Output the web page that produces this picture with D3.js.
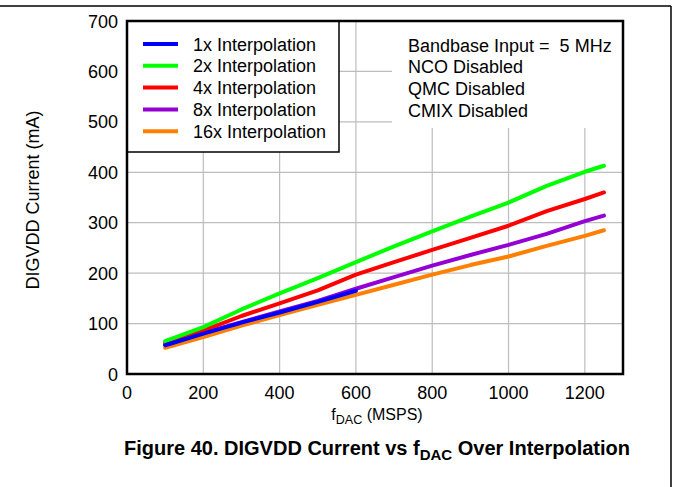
<!DOCTYPE html>
<html><head><meta charset="utf-8">
<script src="https://cdn.jsdelivr.net/npm/d3@7"></script>
<style>
body{margin:0;background:#fff;}
text{font-family:"Liberation Sans",Arial,sans-serif;white-space:pre;}
</style></head>
<body><svg id="c" width="674" height="487"></svg>
<script>
const xValues = [100,200,300,400,500,600,700,800,900,1000,1100,1200,1250];
const x1Values = [100,200,300,400,500,600];
const series1x = [57,80,102,122,143,165];
const series2x = [65,93,128,160,190,222,253,283,312,340,373,401,413];
const series4x = [62,86,115,140,166,197,222,246,270,294,323,347,360];
const series8x = [58,81,103,124,145,169,192,215,236,256,278,303,314];
const series16x = [52,73,96,117,137,157,177,197,216,233,254,274,285];
const seriesNames = ["1x Interpolation","2x Interpolation","4x Interpolation","8x Interpolation","16x Interpolation"];
const seriesColors = ["#0000ff","#00ff00","#ff0000","#9400d3","#ff7f00"];
const xTicks = [0,200,400,600,800,1000,1200];
const yTicks = [0,100,200,300,400,500,600,700];
const notes = ["Bandbase Input =  5 MHz","NCO Disabled","QMC Disabled","CMIX Disabled"];

const svg = d3.select("#c");
const L=127,R=623,T=21,B=374;
const x = d3.scaleLinear().domain([0,1300]).range([L,R]);
const y = d3.scaleLinear().domain([0,700]).range([B,T]);

// page frame lines
svg.append("line").attr("x1",0).attr("x2",671).attr("y1",6).attr("y2",6).attr("stroke","#000").attr("stroke-width",1.5);
svg.append("line").attr("x1",671).attr("x2",671).attr("y1",6).attr("y2",487).attr("stroke","#000").attr("stroke-width",1.5);

// grid
svg.append("g").selectAll("line").data(xTicks.slice(1)).join("line")
  .attr("x1",d=>x(d)).attr("x2",d=>x(d)).attr("y1",T).attr("y2",B)
  .attr("stroke","#bdbdbd").attr("stroke-width",1.2);
svg.append("g").selectAll("line").data(yTicks.slice(1,-1)).join("line")
  .attr("x1",L).attr("x2",R).attr("y1",d=>y(d)).attr("y2",d=>y(d))
  .attr("stroke","#bdbdbd").attr("stroke-width",1.2);

// white boxes covering grid
svg.append("rect").attr("x",392).attr("y",T).attr("width",R-392).attr("height",107).attr("fill","#fff");
svg.append("rect").attr("x",L).attr("y",T).attr("width",339-L).attr("height",152-T).attr("fill","#fff").attr("stroke","#000").attr("stroke-width",1.5);

// series lines
const line = d3.line().x(d=>x(d[0])).y(d=>y(d[1]));
const allSeries = [
  {xs:x1Values, ys:series1x},
  {xs:xValues, ys:series2x},
  {xs:xValues, ys:series4x},
  {xs:xValues, ys:series8x},
  {xs:xValues, ys:series16x}
];
[4,3,2,1,0].forEach(i=>{
  const s = allSeries[i];
  svg.append("path").datum(s.xs.map((v,k)=>[v,s.ys[k]]))
    .attr("d",line).attr("fill","none").attr("stroke",seriesColors[i])
    .attr("stroke-width",4).attr("stroke-linejoin","round").attr("stroke-linecap","round");
});

// plot frame
svg.append("rect").attr("x",L).attr("y",T).attr("width",R-L).attr("height",B-T)
  .attr("fill","none").attr("stroke","#000").attr("stroke-width",2.5);

// axes labels
svg.append("g").selectAll("text").data(xTicks).join("text")
  .attr("x",d=>x(d)).attr("y",399).attr("text-anchor","middle").attr("font-size",18).text(d=>d);
svg.append("g").selectAll("text").data(yTicks).join("text")
  .attr("x",118).attr("y",d=>y(d)+6.5).attr("text-anchor","end").attr("font-size",18).text(d=>d);

// legend
const lg = svg.append("g");
seriesNames.forEach((n,i)=>{
  const yy = 44 + i*21.8;
  lg.append("line").attr("x1",143).attr("x2",178).attr("y1",yy).attr("y2",yy)
    .attr("stroke",seriesColors[i]).attr("stroke-width",4);
  lg.append("text").attr("x",193).attr("y",yy+6.5).attr("font-size",18).text(n);
});

// notes
notes.forEach((n,i)=>{
  svg.append("text").attr("x",408).attr("y",51.5+i*21.8).attr("font-size",18).text(n);
});

// axis titles
const xt = svg.append("text").attr("x",377).attr("y",420).attr("text-anchor","middle").attr("font-size",16);
xt.append("tspan").text("f");
xt.append("tspan").attr("font-size",12.5).attr("dy",4).text("DAC");
xt.append("tspan").attr("dy",-4).text(" (MSPS)");

svg.append("text").attr("transform","translate(39,200) rotate(-90)").attr("text-anchor","middle")
  .attr("font-size",18).text("DIGVDD Current (mA)");

const tt = svg.append("text").attr("x",377).attr("y",455).attr("text-anchor","middle")
  .attr("font-size",20).attr("font-weight","bold");
tt.append("tspan").text("Figure 40. DIGVDD Current vs f");
tt.append("tspan").attr("font-size",15).attr("dy",5).text("DAC");
tt.append("tspan").attr("dy",-5).text(" Over Interpolation");
</script></body></html>
